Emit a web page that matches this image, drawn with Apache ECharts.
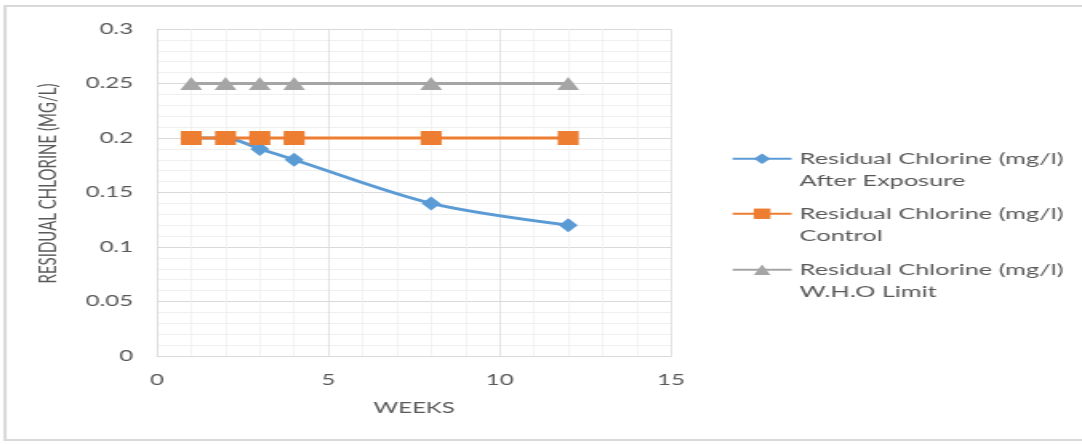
<!DOCTYPE html>
<html><head><meta charset="utf-8">
<script src="https://cdn.jsdelivr.net/npm/echarts@6/dist/echarts.min.js"></script>
<style>
html,body{margin:0;padding:0;background:#fff;overflow:hidden;}
#wrap{width:1082px;height:444px;overflow:hidden;position:relative;background:#fff;}
#chart{width:676px;height:444px;transform:scaleX(1.600592);transform-origin:0 0;}
</style></head><body>
<div id="wrap"><div id="chart"></div></div>
<script>
// ---- data ----
const weeks = [1, 2, 3, 4, 8, 12];
const afterExposure = [0.2, 0.2, 0.19, 0.18, 0.14, 0.12];
const control = [0.2, 0.2, 0.2, 0.2, 0.2, 0.2];
const whoLimit = [0.25, 0.25, 0.25, 0.25, 0.25, 0.25];
const seriesNames = ['After Exposure', 'Control', 'W.H.O Limit'];
const legendPrefix = 'Residual Chlorine (mg/l)';
const xTitle = 'WEEKS';
const yTitle = 'RESIDUAL CHLORINE (MG/L)';

const S = 1082 / 676; // horizontal stretch of the page
const X = v => v / S;

const pairs = arr => weeks.map((w, i) => [w, arr[i]]);
const font = 'Lato, "Open Sans", sans-serif';
const colors = ['#5B9BD5', '#ED7D31', '#A5A5A5'];

function legendFor(name, top) {
  return {
    data: [name],
    orient: 'vertical',
    left: X(731),
    top: top,
    padding: 0,
    itemWidth: X(59),
    itemHeight: 13,
    itemGap: 0,
    formatter: n => ' \n' + legendPrefix + '\n' + n,
    textStyle: {
      fontFamily: font, fontSize: 15.8, color: '#595959',
      lineHeight: 22.5
    }
  };
}

const chart = echarts.init(document.getElementById('chart'));
chart.setOption({
  animation: false,
  backgroundColor: '#fff',
  color: colors,
  graphic: [{
    type: 'rect',
    shape: { x: X(5), y: 6, width: X(1200), height: 434 },
    style: { fill: 'none', stroke: '#d9d9d9', lineWidth: 2 },
    silent: true, z: -10
  }],
  legend: [legendFor(seriesNames[0], 125), legendFor(seriesNames[1], 180), legendFor(seriesNames[2], 236)],
  grid: { left: X(157), top: 29, width: X(671) - X(157), height: 327, containLabel: false },
  xAxis: {
    type: 'value', min: 0, max: 15, interval: 5,
    name: xTitle, nameLocation: 'middle', nameGap: 45,
    nameTextStyle: { fontFamily: font, fontSize: 15, color: '#595959' },
    axisLine: { show: true, lineStyle: { color: '#d9d9d9', width: 1 } },
    axisTick: { show: false },
    axisLabel: { fontFamily: font, fontSize: 15, color: '#595959', margin: 17 },
    splitLine: { show: true, lineStyle: { color: '#d9d9d9', width: 0.7 } },
    minorTick: { show: false, splitNumber: 5 },
    minorSplitLine: { show: true, lineStyle: { color: '#efefef', width: 0.7 } }
  },
  yAxis: {
    type: 'value', min: 0, max: 0.3, interval: 0.05,
    name: yTitle, nameLocation: 'middle', nameGap: 60, nameRotate: 90,
    nameTextStyle: { fontFamily: font, fontSize: 15, color: '#595959', padding: [0, 0, 0, 18] },
    axisLine: { show: true, lineStyle: { color: '#d9d9d9', width: 0.7 } },
    axisTick: { show: false },
    axisLabel: { fontFamily: font, fontSize: 15, color: '#595959', margin: 15,
      formatter: v => String(+v.toFixed(2)) },
    splitLine: { show: true, lineStyle: { color: '#d9d9d9', width: 1 } },
    minorTick: { show: false, splitNumber: 5 },
    minorSplitLine: { show: true, lineStyle: { color: '#efefef', width: 1 } }
  },
  series: [
    {
      name: seriesNames[0], type: 'line', data: pairs(afterExposure),
      smooth: 0.3, symbol: 'diamond', symbolSize: [X(19), 14],
      lineStyle: { width: 2.8, color: colors[0] }, itemStyle: { color: colors[0] }, z: 2
    },
    {
      name: seriesNames[1], type: 'line', data: pairs(control),
      symbol: 'rect', symbolSize: [X(21), 14],
      lineStyle: { width: 2.8, color: colors[1] }, itemStyle: { color: colors[1] }, z: 3
    },
    {
      name: seriesNames[2], type: 'line', data: pairs(whoLimit),
      symbol: 'triangle', symbolSize: [X(22), 13],
      lineStyle: { width: 2.8, color: colors[2] }, itemStyle: { color: colors[2] }, z: 4
    }
  ]
});
</script>
</body></html>
